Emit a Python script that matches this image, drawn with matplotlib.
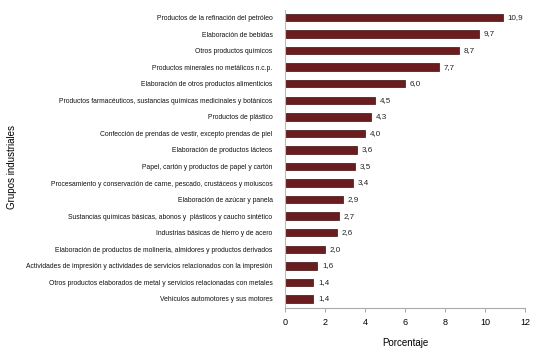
import matplotlib.pyplot as plt

plt.rcParams['font.family'] = ['Liberation Sans Narrow', 'Liberation Sans', 'DejaVu Sans']

grupos = [
    'Productos de la refinación del petróleo',
    'Elaboración de bebidas',
    'Otros productos químicos',
    'Productos minerales no metálicos n.c.p.',
    'Elaboración de otros productos alimenticios',
    'Productos farmacéuticos, sustancias químicas medicinales y botánicos',
    'Productos de plástico',
    'Confección de prendas de vestir, excepto prendas de piel',
    'Elaboración de productos lácteos',
    'Papel, cartón y productos de papel y cartón',
    'Procesamiento y conservación de carne, pescado, crustáceos y moluscos',
    'Elaboración de azúcar y panela',
    'Sustancias químicas básicas, abonos y  plásticos y caucho sintético',
    'Industrias básicas de hierro y de acero',
    'Elaboración de productos de molinería, almidores y productos derivados',
    'Actividades de impresión y actividades de servicios relacionados con la impresión',
    'Otros productos elaborados de metal y servicios relacionadas con metales',
    'Vehículos automotores y sus motores',
]
porcentaje = [10.9, 9.7, 8.7, 7.7, 6.0, 4.5, 4.3, 4.0, 3.6, 3.5, 3.4, 2.9, 2.7, 2.6, 2.0, 1.6, 1.4, 1.4]
xticks = [0, 2, 4, 6, 8, 10, 12]

fig = plt.figure(figsize=(5.4, 3.51), dpi=100)
ax = fig.add_axes([0.528, 0.1225, 0.444, 0.849])

pos = list(range(len(grupos)))
ax.barh(pos, porcentaje, height=0.45, color='#6b1c1f', edgecolor='#3e0e10', linewidth=0.5)

for y, v in zip(pos, porcentaje):
    ax.text(v + 0.25, y, f'{v:.1f}'.replace('.', ','), va='center', ha='left',
            fontsize=5.8, color='#222222')

ax.set_yticks(pos)
ax.set_yticklabels(grupos, fontsize=4.85, color='#111111')
ax.set_ylim(len(grupos) - 0.45, -0.45)
ax.set_xlim(0, 12)
ax.set_xticks(xticks)
ax.set_xticklabels([str(t) for t in xticks], fontsize=6.5)
ax.tick_params(axis='y', length=0, pad=9)
ax.tick_params(axis='x', length=3, color='#999999', width=0.6, pad=4)

for s in ['top', 'right']:
    ax.spines[s].set_visible(False)
ax.spines['left'].set_color('#bbbbbb')
ax.spines['bottom'].set_color('#aaaaaa')
ax.spines['left'].set_linewidth(0.8)
ax.spines['bottom'].set_linewidth(0.8)

ax.set_xlabel('Porcentaje', fontsize=7, labelpad=8)
fig.text(0.022, 0.524, 'Grupos industriales', rotation=90, fontsize=7, va='center', ha='center')

plt.savefig('out.png', dpi=100)
